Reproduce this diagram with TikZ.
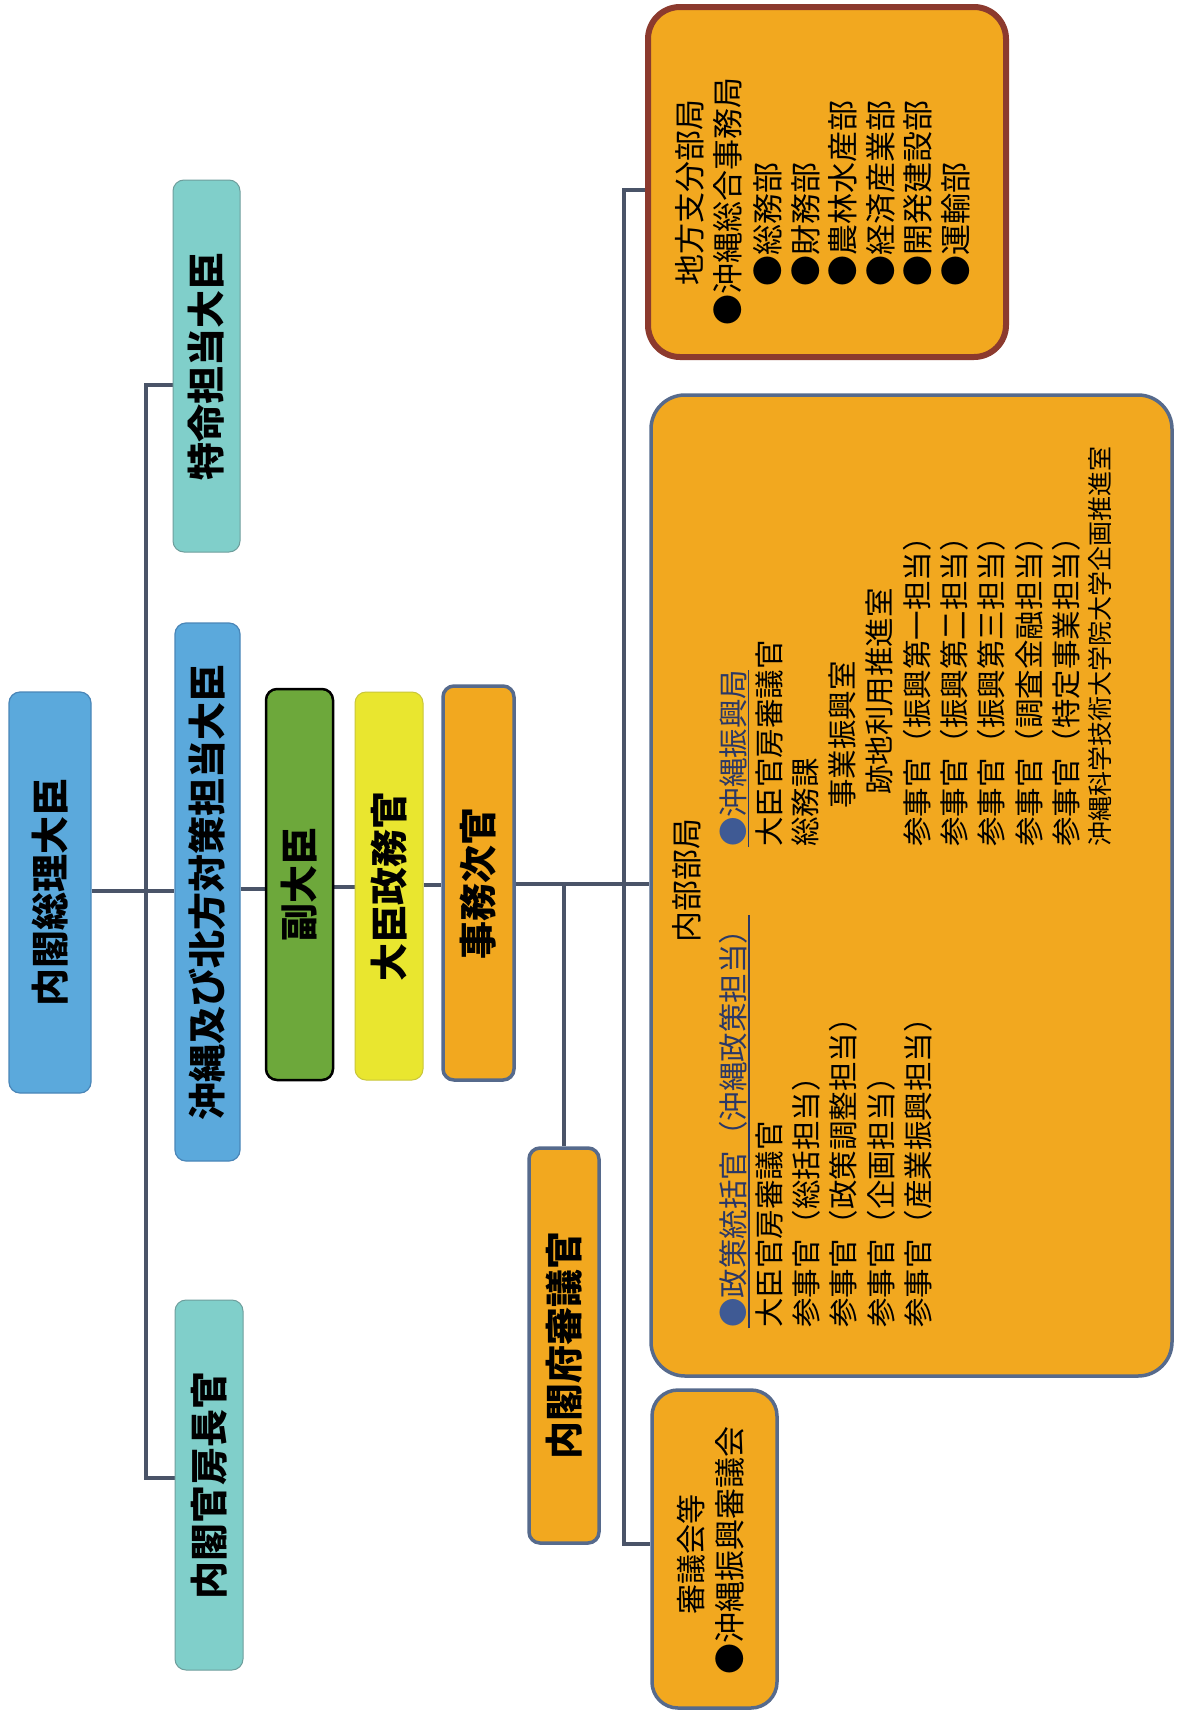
\documentclass[tikz,border=0pt]{standalone}
\usepackage{fontspec}
\usetikzlibrary{backgrounds}
\newfontfamily\jp{Noto Sans CJK JP}
\definecolor{lnc}{HTML}{4A5468}
\definecolor{blu}{HTML}{5BA9DC}
\definecolor{blub}{HTML}{4A86B8}
\definecolor{tealx}{HTML}{80CFCA}
\definecolor{tealb}{HTML}{6E9E9C}
\definecolor{grn}{HTML}{6DA83B}
\definecolor{yel}{HTML}{E9E62F}
\definecolor{yelb}{HTML}{C9C63A}
\definecolor{org}{HTML}{F2A81F}
\definecolor{orgb}{HTML}{566A8C}
\definecolor{redb}{HTML}{8C3A2E}
\definecolor{nvy}{HTML}{2B3866}
\definecolor{nvyb}{HTML}{3F5A94}
\tikzset{
  conn/.style={draw=lnc, line width=3.5pt},
  lbox/.style={rotate=90, rounded corners=11pt, inner sep=0pt, text=black,
    font=\jp\bfseries\fontsize{38}{38}\selectfont},
  ctn/.style={fill=org, draw=orgb, line width=3.5pt, inner sep=0pt},
  ln/.style={rotate=90, anchor=west, inner sep=0pt, text=black,
    font=\jp\fontsize{29.5}{29.5}\selectfont},
  lnb/.style={ln, font=\jp\fontsize{31}{31}\selectfont},
  lns/.style={ln, font=\jp\fontsize{25}{25}\selectfont},
  hl/.style={ln, text=nvy},
  uline/.style={draw=nvy, line width=1.6pt},
}
\begin{document}
\begin{tikzpicture}[x=1pt,y=-1pt]
\useasboundingbox (0,0) rectangle (1176,1713);

% top-level boxes
\node[lbox, fill=blu, draw=blub, line width=1.2pt, minimum width=401pt, minimum height=82pt] (pm) at (50,892.5) {内閣総理大臣};
\node[lbox, fill=blu, draw=blub, line width=1.2pt, minimum width=538pt, minimum height=65pt] (ok) at (207.5,892) {沖縄及び北方対策担当大臣};
\node[lbox, fill=tealx, draw=tealb, line width=1pt, minimum width=372pt, minimum height=67pt] (tok) at (206.5,366) {特命担当大臣};
\node[lbox, fill=tealx, draw=tealb, line width=1pt, minimum width=370pt, minimum height=68pt] (kan) at (209,1485) {内閣官房長官};
\node[lbox, fill=grn, draw=black, line width=2.5pt, minimum width=391pt, minimum height=67pt] (vice) at (299.5,884.5) {副大臣};
\node[lbox, fill=yel, draw=yelb, line width=1pt, minimum width=388pt, minimum height=68pt] (seimu) at (389,886) {大臣政務官};
\node[lbox, fill=org, draw=orgb, line width=3.5pt, minimum width=394pt, minimum height=71pt] (jimu) at (478.5,883) {事務次官};
\node[lbox, fill=org, draw=orgb, line width=3.5pt, minimum width=395pt, minimum height=70pt] (nks) at (564,1345.5) {内閣府審議官};

% containers
\node[ctn, draw=redb, line width=6pt, rounded corners=32pt, minimum width=358pt, minimum height=350pt] (chiho) at (827,182) {};
\node[ctn, rounded corners=34pt, minimum width=521pt, minimum height=981pt] (big) at (911.5,885.5) {};
\node[ctn, rounded corners=26pt, minimum width=125pt, minimum height=318pt] (shingi) at (714.5,1549) {};

% 地方支分部局
\node[lnb] (c1) at (690,286) {地方支分部局};
\node[lnb] (c2) at (728,326) {●沖縄総合事務局};
\node[lnb] (c3) at (768,287) {●総務部};
\node[lnb] (c4) at (806,287) {●財務部};
\node[lnb] (c5) at (843,287) {●農林水産部};
\node[lnb] (c6) at (881,287) {●経済産業部};
\node[lnb] (c7) at (918,287) {●開発建設部};
\node[lnb] (c8) at (956,287) {●運輸部};

% 内部部局
\node[lnb] (n0) at (687,943) {内部部局};
\node[hl] (h1) at (733,1328) {{\color{nvyb}●}政策統括官（沖縄政策担当）};
\node[ln] (a2) at (769,1328) {大臣官房審議官};
\node[ln] (a3) at (806,1328) {参事官（総括担当）};
\node[ln] (a4) at (843,1328) {参事官（政策調整担当）};
\node[ln] (a5) at (881,1328) {参事官（企画担当）};
\node[ln] (a6) at (918,1328) {参事官（産業振興担当）};

\node[hl] (h2) at (733,847) {{\color{nvyb}●}沖縄振興局};
\node[ln] (b2) at (769,847) {大臣官房審議官};
\node[ln] (b3) at (805,847) {総務課};
\node[ln] (b4) at (842,809) {事業振興室};
\node[ln] (b5) at (879,795) {跡地利用推進室};
\node[ln] (b6) at (917,847) {参事官（振興第一担当）};
\node[ln] (b7) at (954,847) {参事官（振興第二担当）};
\node[ln] (b8) at (991,847) {参事官（振興第三担当）};
\node[ln] (b9) at (1029,847) {参事官（調査金融担当）};
\node[ln] (b10) at (1066,847) {参事官（特定事業担当）};
\node[lns] (b11) at (1100,847) {沖縄科学技術大学院大学企画推進室};

\draw[uline] ([xshift=1.5pt]h1.south west) -- ([xshift=1.5pt]h1.south east);
\draw[uline] ([xshift=1.5pt]h2.south west) -- ([xshift=1.5pt]h2.south east);

% 審議会等
\node[ln, font=\jp\fontsize{30}{30}\selectfont] (s1) at (691,1615) {審議会等};
\node[lnb] (s2) at (730,1675) {●沖縄振興審議会};

% connectors
\coordinate (y1) at (0,891);
\coordinate (y2) at (0,889);
\coordinate (y3) at (0,887);
\coordinate (y4) at (0,885);
\coordinate (y5) at (0,884);
\coordinate (b1t) at (146,385);
\coordinate (b1b) at (146,1478);
\coordinate (b2t) at (624,190);
\coordinate (b2b) at (624,1544);
\begin{scope}[on background layer]
\fill[white] (0,0) rectangle (1176,1713);
\draw[conn] (pm.south |- y1) -- (ok.north |- y1);
\draw[conn] (ok.south |- y2) -- (vice.north |- y2);
\draw[conn] (vice.south |- y3) -- (seimu.north |- y3);
\draw[conn] (seimu.south |- y4) -- (jimu.north |- y4);
\draw[conn] (jimu.south |- y5) -- (big.west |- y5);
\draw[conn] (nks.east) -- (nks.east |- y5);
\draw[conn] (tok.north |- b1t) -- (b1t) -- (b1b) -- (kan.north |- b1b);
\draw[conn] (chiho.west |- b2t) -- (b2t) -- (b2b) -- (shingi.west |- b2b);
\end{scope}
\end{tikzpicture}
\end{document}
